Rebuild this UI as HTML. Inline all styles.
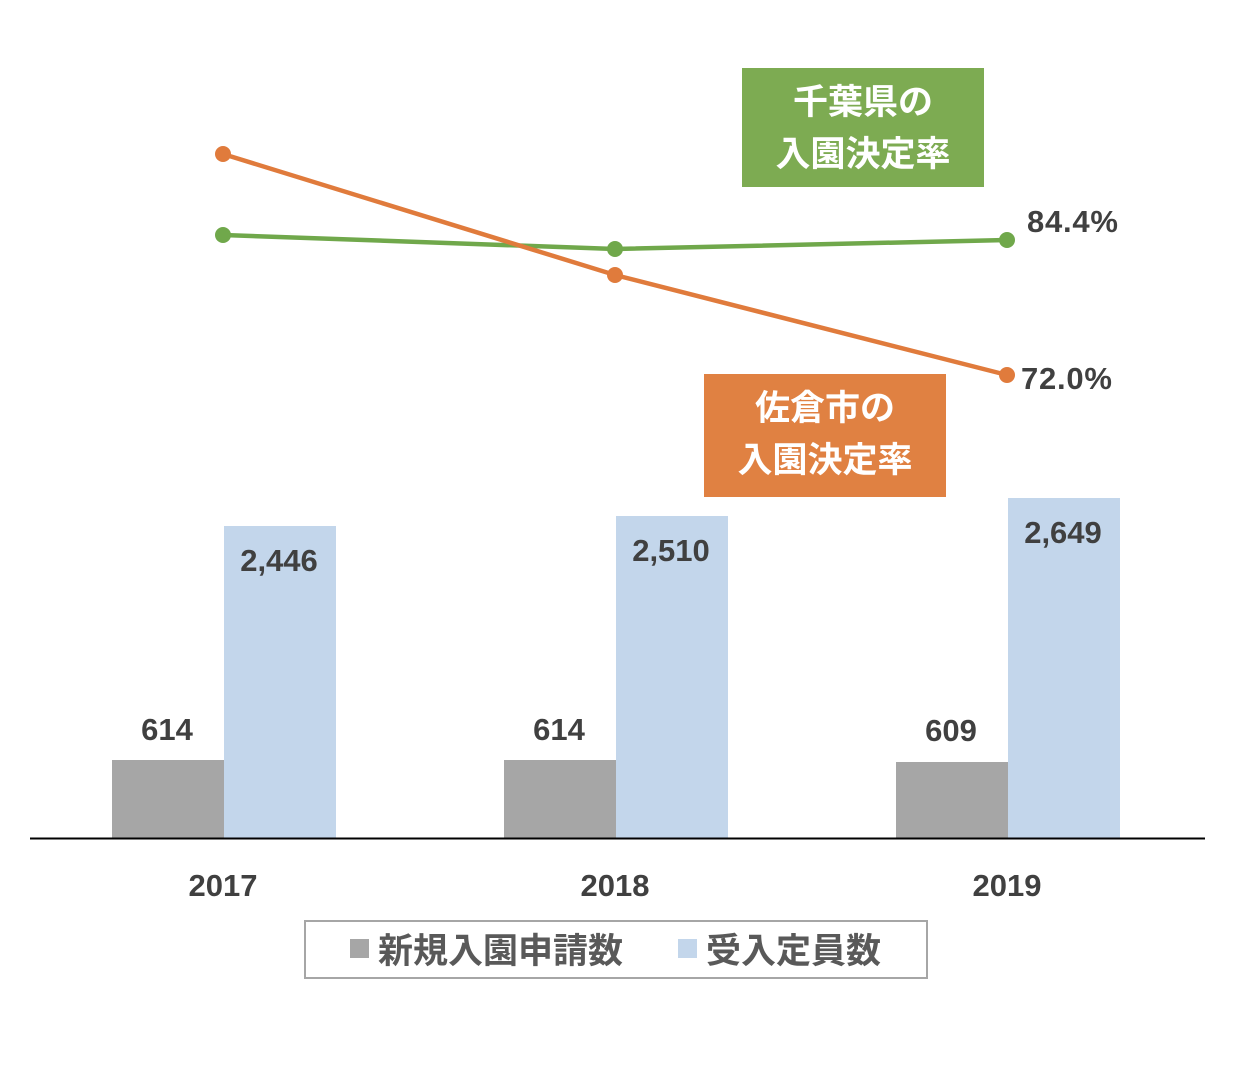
<!DOCTYPE html>
<html><head><meta charset="utf-8"><style>
html,body{margin:0;padding:0;background:#fff;}
svg text{font-family:"Liberation Sans","Noto Sans CJK JP",sans-serif;font-weight:bold;}
</style></head><body>
<svg width="1234" height="1076" viewBox="0 0 1234 1076" xmlns="http://www.w3.org/2000/svg">
<rect width="1234" height="1076" fill="#fff"/>
<g fill="#a6a6a6">
<rect x="112" y="760" width="112" height="78"/>
<rect x="504" y="760" width="112" height="78"/>
<rect x="896" y="762" width="112" height="76"/>
</g>
<g fill="#c3d6eb">
<rect x="224" y="526" width="112" height="312"/>
<rect x="616" y="516" width="112" height="322"/>
<rect x="1008" y="498" width="112" height="340"/>
</g>
<line x1="30" y1="838.5" x2="1205" y2="838.5" stroke="#000" stroke-width="2"/>
<g font-size="31" fill="#404040" text-anchor="middle">
<text x="167" y="740">614</text>
<text x="559" y="740">614</text>
<text x="951" y="741">609</text>
<text x="279" y="571">2,446</text>
<text x="671" y="561">2,510</text>
<text x="1063" y="543">2,649</text>
<text x="223" y="896">2017</text>
<text x="615" y="896">2018</text>
<text x="1007" y="896">2019</text>
</g>
<polyline points="223,235 615,249 1007,240" fill="none" stroke="#70a84b" stroke-width="4.5"/>
<polyline points="223,154 615,275 1007,375" fill="none" stroke="#e07b3c" stroke-width="4.5"/>
<g fill="#70a84b"><circle cx="223" cy="235" r="8"/><circle cx="615" cy="249" r="8"/><circle cx="1007" cy="240" r="8"/></g>
<g fill="#e07b3c"><circle cx="223" cy="154" r="8"/><circle cx="615" cy="275" r="8"/><circle cx="1007" cy="375" r="8"/></g>
<g font-size="31" fill="#404040">
<text x="1027" y="232" textLength="91">84.4%</text>
<text x="1021" y="389" textLength="91">72.0%</text>
</g>
<rect x="742" y="68" width="242" height="119" fill="#7dab52"/>
<rect x="704" y="374" width="242" height="123" fill="#e08142"/>
<g font-size="35" fill="#fff" text-anchor="middle">
<text x="863" y="114">千葉県の</text>
<text x="863" y="166">入園決定率</text>
<text x="825" y="420">佐倉市の</text>
<text x="825" y="472">入園決定率</text>
</g>
<rect x="305" y="921" width="622" height="57" fill="#fff" stroke="#a6a6a6" stroke-width="2"/>
<rect x="350" y="939" width="19" height="19" fill="#a6a6a6"/>
<rect x="678" y="939" width="19" height="19" fill="#c3d6eb"/>
<g font-size="35" fill="#595959">
<text x="378" y="963">新規入園申請数</text>
<text x="706" y="963">受入定員数</text>
</g>
</svg>
</body></html>
